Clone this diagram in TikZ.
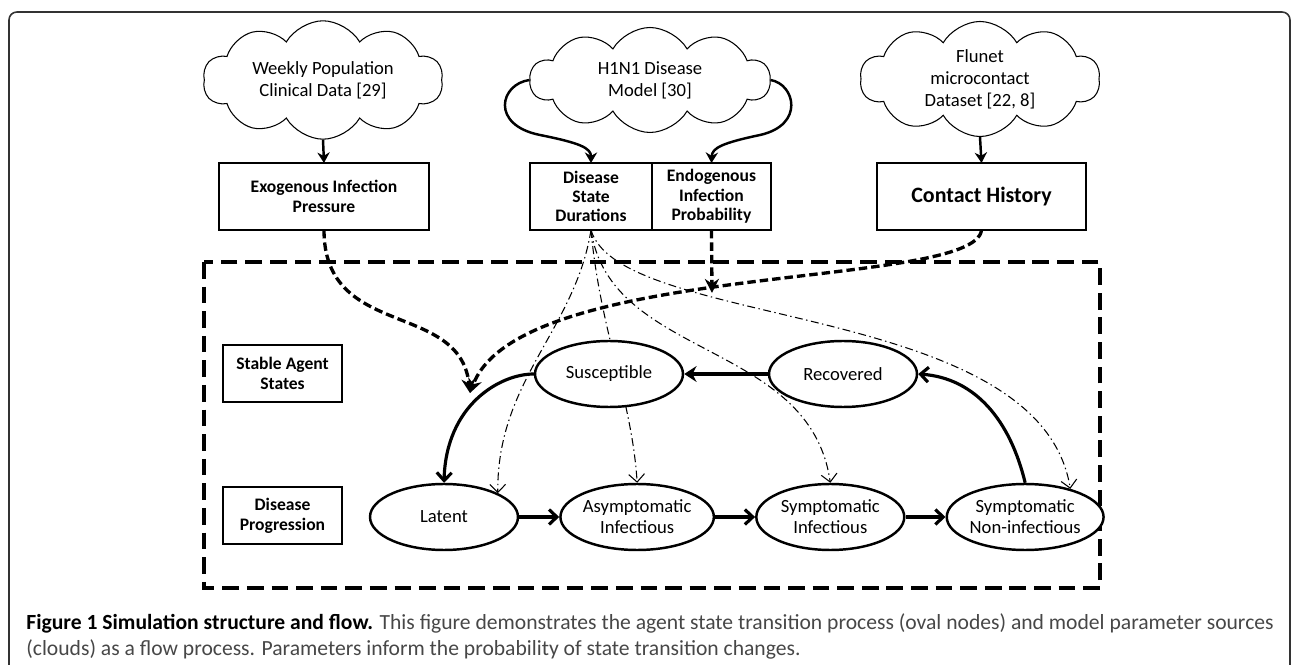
\documentclass[tikz,border=0pt]{standalone}
\usepackage{fontspec}
\setmainfont{Carlito}
\usepackage{tikz}
\usetikzlibrary{positioning}
\usetikzlibrary{shapes.symbols, shapes.geometric, arrows.meta, backgrounds}
\tikzstyle{source}=[draw, cloud, cloud puffs=10, cloud puff arc=120, aspect=2.3, inner sep=0pt, line width=0.6pt, minimum width=4.8cm, minimum height=2.1cm, align=center, font=\fontsize{10.6}{12.6}\selectfont]
\tikzstyle{parambox}=[draw, rectangle, line width=0.8pt, outer sep=0pt, minimum height=1.34cm, align=center, font=\bfseries\fontsize{10}{11}\selectfont]
\tikzstyle{stagebox}=[draw, rectangle, line width=0.8pt, minimum width=2.38cm, minimum height=1.14cm, align=center, font=\bfseries\fontsize{10}{11.4}\selectfont]
\tikzstyle{state}=[draw, ellipse, line width=1.4pt, fill=white, minimum width=2.96cm, minimum height=1.32cm, inner sep=0pt, align=center, font=\fontsize{10.6}{12}\selectfont]
\tikzstyle{feed}=[line width=1.4pt, -{Stealth[length=6pt, width=7pt]}]
\tikzstyle{pressure}=[line width=1.9pt, dash pattern=on 4.8pt off 2.3pt, -{Stealth[length=8pt, width=8pt]}]
\tikzstyle{timing}=[line width=0.6pt, dash pattern=on 4.5pt off 2pt on 0.8pt off 2pt, -{Straight Barb[length=4.5pt, width=9pt]}]
\tikzstyle{transition}=[line width=1.8pt, -{Straight Barb[length=4.5pt, width=8.5pt]}]
\tikzstyle{recover}=[line width=2.8pt, -{Stealth[length=7pt, width=9pt]}]

\begin{document}
\begin{tikzpicture}[x=0.02cm, y=-0.02cm]
    \useasboundingbox (0,0) rectangle (1292,665);

    % frame and model area
    \draw[black!80, line width=0.9pt, rounded corners=4.5pt] (9,680) -- (9,12) -- (1290,12) -- (1290,680);
    \draw[line width=1.8pt, dash pattern=on 9.5pt off 4.5pt] (204,262) rectangle (1100,588);

    % parameter sources
    \node[source] (weekly) at (323,80) {Weekly Population\\Clinical Data [29]};
    \node[source] (h1n1) at (650,80) {H1N1 Disease\\Model [30]};
    \node[source] (flunet) at (980,79) {Flunet\\microcontact\\Dataset [22, 8]};

    \node[parambox, minimum width=4.2cm] (exo) at (324,196.5) {Exogenous Infection\\Pressure};
    \node[parambox, minimum width=2.44cm] (dur) at (591,196.5) {Disease\\State\\Durations};
    \node[parambox, minimum width=2.38cm, right=0pt of dur] (endo) {Endogenous\\Infection\\Probability};
    \node[parambox, minimum width=4.18cm, font=\bfseries\fontsize{12.5}{14}\selectfont] (contact) at (981.5,196.5) {Contact History};

    \node[stagebox] (stable) at (282.5,373.5) {Stable Agent\\States};
    \node[stagebox] (prog) at (282.5,515.5) {Disease\\Progression};

    % agent states
    \node[state] (sus) at (609,374) {Susceptible};
    \node[state] (rec) at (843,374) {Recovered};
    \node[state] (lat) at (444,517) {Latent};
    \node[state, right=0.8cm of lat] (asym) {Asymptomatic\\Infectious};
    \node[state, right=0.8cm of asym] (syminf) {Symptomatic\\Infectious};
    \node[state, right=0.8cm of syminf] (symnon) {Symptomatic\\Non-infectious};

    \coordinate (entry) at (470,393);
    \coordinate (endohit) at (712,293);

    \draw[feed] (weekly.south) -- (exo.north);
    \draw[feed] (flunet.south) -- (contact.north);
    \draw[feed] (h1n1.west) .. controls (500,84) and (490,125) .. (540,135) .. controls (580,143) and (591,148) .. (dur.north);
    \draw[feed] (h1n1.east) .. controls (795,84) and (805,125) .. (760,135) .. controls (722,143) and (712,148) .. (endo.north);

    \draw[pressure] (exo.south) .. controls (324,340) and (460,300) .. (entry);
    \draw[pressure] (contact.south) .. controls (975,290) and (520,260) .. (entry);
    \draw[pressure] (endo.south) -- (endohit);

    \begin{scope}[on background layer]
        \draw[timing] (dur.south) .. controls (575,330) and (497,380) .. (lat.24);
        \draw[timing] (dur.south) .. controls (600,330) and (632,400) .. (asym.north);
        \draw[timing] (dur.south) .. controls (610,360) and (810,340) .. (syminf.north);
        \draw[timing] (dur.south) .. controls (620,330) and (1040,300) .. (symnon.32);
    \end{scope}

    \draw[transition] (sus.west) .. controls (500,374) and (446,405) .. (lat.north);
    \draw[transition] (lat.east) -- (asym.west);
    \draw[transition] (asym.east) -- (syminf.west);
    \draw[transition] (syminf.east) -- (symnon.west);
    \draw[transition] (symnon.north) .. controls (1010,420) and (975,378) .. (rec.east);
    \draw[recover] (rec.west) -- (sus.east);

    % caption
    \node[anchor=base west, inner sep=0pt, font=\fontsize{12.3}{14}\selectfont, text=black!72] (cap1) at (26,629) {\textcolor{black}{\bfseries Figure 1 Simulation structure and flow.} This figure demonstrates the agent state transition process (oval nodes) and model parameter sources};
    \node[anchor=base west, inner sep=0pt, font=\fontsize{12.3}{14}\selectfont, text=black!72] (cap2) at (26,655) {(clouds) as a flow process. Parameters inform the probability of state transition changes.};
\end{tikzpicture}
\end{document}
